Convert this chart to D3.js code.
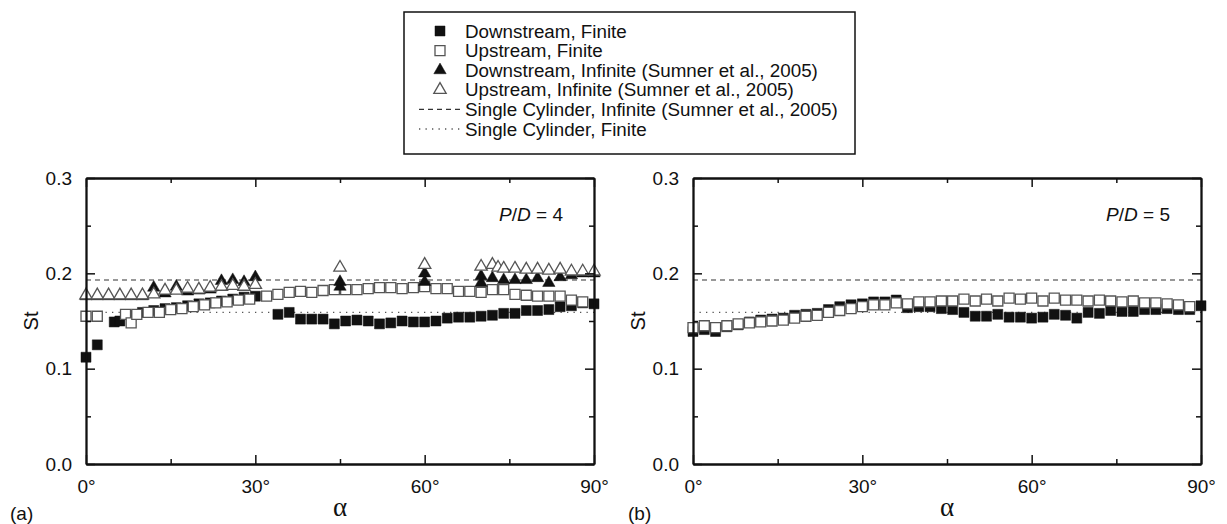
<!DOCTYPE html>
<html>
<head>
<meta charset="utf-8">
<script src="https://cdn.jsdelivr.net/npm/d3@7"></script>
<style>
  body { margin: 0; background: #fff; }
  svg { display: block; font-family: "Liberation Sans", Arial, sans-serif; }
</style>
</head>
<body>
<div id="chart"></div>
<script>
// Tick values
const alphaMajor = [0, 30, 60, 90];
const alphaMinor = [15, 45, 75];
const stMajor = [0, 0.1, 0.2, 0.3];
const stMinor = [0.05, 0.15, 0.25];

// Reference lines
const stSingleInfinite = 0.193;
const stSingleFinite = 0.159;

// P/D = 4, [alpha, St]
const downFinite4 = [[0,0.112],[2,0.125],[5,0.149],[6,0.150],[8,0.156],[10,0.159],[12,0.161],[14,0.163],[16,0.164],[18,0.166],[20,0.168],[22,0.169],[24,0.171],[26,0.173],[28,0.175],[30,0.176],[34,0.157],[36,0.159],[38,0.152],[40,0.152],[42,0.152],[44,0.147],[46,0.150],[48,0.151],[50,0.150],[52,0.147],[54,0.148],[56,0.150],[58,0.149],[60,0.149],[62,0.150],[64,0.153],[66,0.154],[68,0.154],[70,0.155],[72,0.156],[74,0.158],[76,0.158],[78,0.161],[80,0.161],[82,0.162],[84,0.165],[86,0.166],[88,0.169],[90,0.168]];
const upFinite4 = [[0,0.155],[2,0.155],[7,0.157],[8,0.148],[9,0.157],[11,0.159],[13,0.159],[15,0.162],[17,0.163],[19,0.165],[21,0.167],[23,0.169],[25,0.170],[27,0.172],[29,0.173],[32,0.176],[34,0.178],[36,0.180],[38,0.181],[40,0.180],[42,0.182],[44,0.183],[46,0.183],[48,0.183],[50,0.184],[52,0.185],[54,0.185],[56,0.184],[58,0.185],[60,0.186],[62,0.184],[64,0.184],[66,0.181],[68,0.181],[70,0.180],[72,0.183],[74,0.183],[76,0.178],[78,0.177],[80,0.176],[82,0.176],[84,0.176],[86,0.172],[88,0.170]];
const downInfinite4 = [[0,0.176],[2,0.176],[4,0.176],[6,0.176],[8,0.176],[10,0.176],[12,0.185],[14,0.179],[16,0.186],[18,0.181],[20,0.182],[22,0.183],[24,0.192],[26,0.193],[28,0.191],[30,0.196],[45,0.186],[45,0.191],[60,0.191],[60,0.200],[70,0.190],[70,0.197],[72,0.195],[74,0.193],[76,0.193],[78,0.193],[80,0.195],[82,0.190],[84,0.196],[86,0.198],[88,0.200],[90,0.200]];
const upInfinite4 = [[0,0.177],[2,0.177],[4,0.177],[6,0.177],[8,0.177],[10,0.177],[12,0.178],[14,0.182],[16,0.182],[18,0.184],[20,0.183],[22,0.185],[24,0.186],[26,0.187],[28,0.186],[30,0.188],[45,0.206],[60,0.209],[70,0.207],[72,0.209],[73,0.206],[74,0.205],[76,0.205],[78,0.204],[80,0.204],[82,0.203],[84,0.204],[86,0.202],[88,0.202],[90,0.202]];

// P/D = 5
const downFinite5 = [[0,0.139],[2,0.141],[4,0.139],[6,0.144],[8,0.146],[10,0.149],[12,0.151],[14,0.152],[16,0.153],[18,0.156],[20,0.157],[22,0.158],[24,0.162],[26,0.165],[28,0.167],[30,0.168],[32,0.170],[34,0.170],[36,0.172],[38,0.164],[40,0.165],[42,0.165],[44,0.163],[46,0.162],[48,0.159],[50,0.155],[52,0.155],[54,0.157],[56,0.154],[58,0.154],[60,0.153],[62,0.154],[64,0.157],[66,0.156],[68,0.153],[70,0.159],[72,0.158],[74,0.161],[76,0.160],[78,0.160],[80,0.162],[82,0.162],[84,0.163],[86,0.162],[88,0.162],[90,0.166]];
const upFinite5 = [[0,0.143],[2,0.145],[4,0.143],[6,0.145],[8,0.147],[10,0.148],[12,0.149],[14,0.150],[16,0.151],[18,0.153],[20,0.155],[22,0.156],[24,0.159],[26,0.161],[28,0.163],[30,0.165],[32,0.167],[34,0.167],[36,0.169],[38,0.168],[40,0.170],[42,0.170],[44,0.171],[46,0.171],[48,0.173],[50,0.171],[52,0.173],[54,0.171],[56,0.174],[58,0.173],[60,0.174],[62,0.171],[64,0.174],[66,0.172],[68,0.172],[70,0.171],[72,0.172],[74,0.171],[76,0.170],[78,0.171],[80,0.169],[82,0.169],[84,0.168],[86,0.167],[88,0.165]];

const legendLabels = [
  "Downstream, Finite",
  "Upstream, Finite",
  "Downstream, Infinite (Sumner et al., 2005)",
  "Upstream, Infinite (Sumner et al., 2005)",
  "Single Cylinder, Infinite (Sumner et al., 2005)",
  "Single Cylinder, Finite"
];

const width = 1227, height = 524;
const svg = d3.select("#chart").append("svg")
  .attr("width", width).attr("height", height);

const plotTop = 178, plotBottom = 464;
const y = d3.scaleLinear().domain([0, 0.3]).range([plotBottom, plotTop]);

const squareSym = d3.symbol().type(d3.symbolSquare).size(100);
const triSym = d3.symbol().type(d3.symbolTriangle).size(66);

function drawSeries(g, x, data, sym, filled) {
  g.selectAll(null)
    .data(data)
    .join("path")
    .attr("d", sym)
    .attr("transform", d => `translate(${x(d[0])},${y(d[1])})`)
    .attr("fill", filled ? "#111" : "#fff")
    .attr("stroke", filled ? "#111" : "#555")
    .attr("stroke-width", filled ? 0.5 : 1.3);
}

function drawPanel(opts) {
  const x = d3.scaleLinear().domain([0, 90]).range([opts.x0, opts.x1]);
  const g = svg.append("g");

  // reference lines
  g.append("line")
    .attr("x1", x(0)).attr("x2", x(90))
    .attr("y1", y(stSingleInfinite)).attr("y2", y(stSingleInfinite))
    .attr("stroke", "#333").attr("stroke-width", 1.1)
    .attr("stroke-dasharray", "5,4");
  g.append("line")
    .attr("x1", x(0)).attr("x2", x(90))
    .attr("y1", y(stSingleFinite)).attr("y2", y(stSingleFinite))
    .attr("stroke", "#555").attr("stroke-width", 1.3)
    .attr("stroke-dasharray", "1.3,5.2");

  // markers
  drawSeries(g, x, opts.downFinite, squareSym, true);
  drawSeries(g, x, opts.upFinite, squareSym, false);
  if (opts.downInfinite) drawSeries(g, x, opts.downInfinite, triSym, true);
  if (opts.upInfinite) drawSeries(g, x, opts.upInfinite, triSym, false);

  // axes: ticks point inward on all four sides
  const axisStyle = sel => {
    sel.selectAll(".domain").attr("stroke", "#111").attr("stroke-width", 1.8);
    sel.selectAll(".tick line").attr("stroke", "#111").attr("stroke-width", 1.5);
    sel.selectAll("text").attr("font-size", 19).attr("fill", "#111")
      .attr("font-family", "'Liberation Sans', Arial, sans-serif");
  };

  g.append("g").attr("transform", `translate(0,${plotBottom})`)
    .call(d3.axisBottom(x).tickValues(alphaMajor).tickSize(-9).tickSizeOuter(0)
      .tickPadding(16).tickFormat(d => d + "°"))
    .call(axisStyle);
  g.append("g").attr("transform", `translate(0,${plotBottom})`)
    .call(d3.axisBottom(x).tickValues(alphaMinor).tickSize(-5).tickSizeOuter(0).tickFormat(""))
    .call(axisStyle);
  g.append("g").attr("transform", `translate(0,${plotTop})`)
    .call(d3.axisTop(x).tickValues(alphaMajor).tickSize(-9).tickSizeOuter(0).tickFormat(""))
    .call(axisStyle);
  g.append("g").attr("transform", `translate(0,${plotTop})`)
    .call(d3.axisTop(x).tickValues(alphaMinor).tickSize(-5).tickSizeOuter(0).tickFormat(""))
    .call(axisStyle);

  g.append("g").attr("transform", `translate(${opts.x0},0)`)
    .call(d3.axisLeft(y).tickValues(stMajor).tickSize(-9).tickSizeOuter(0)
      .tickPadding(14).tickFormat(d3.format(".1f")))
    .call(axisStyle);
  g.append("g").attr("transform", `translate(${opts.x0},0)`)
    .call(d3.axisLeft(y).tickValues(stMinor).tickSize(-5).tickSizeOuter(0).tickFormat(""))
    .call(axisStyle);
  g.append("g").attr("transform", `translate(${opts.x1},0)`)
    .call(d3.axisRight(y).tickValues(stMajor).tickSize(-9).tickSizeOuter(0).tickFormat(""))
    .call(axisStyle);
  g.append("g").attr("transform", `translate(${opts.x1},0)`)
    .call(d3.axisRight(y).tickValues(stMinor).tickSize(-5).tickSizeOuter(0).tickFormat(""))
    .call(axisStyle);

  // P/D annotation
  const pd = g.append("text")
    .attr("x", opts.x1 - 31).attr("y", 221)
    .attr("text-anchor", "end").attr("font-size", 19).attr("fill", "#111");
  pd.append("tspan").attr("font-style", "italic").text("P");
  pd.append("tspan").text("/");
  pd.append("tspan").attr("font-style", "italic").text("D");
  pd.append("tspan").text(" = " + opts.pd);

  // axis titles
  g.append("text")
    .attr("transform", `translate(${opts.x0 - 55},${(plotTop + plotBottom) / 2}) rotate(-90)`)
    .attr("text-anchor", "middle").attr("dy", "0.35em")
    .attr("font-size", 20).attr("fill", "#111").text("St");
  g.append("text")
    .attr("x", (opts.x0 + opts.x1) / 2).attr("y", 516)
    .attr("text-anchor", "middle")
    .attr("font-family", "'Liberation Serif', serif")
    .attr("font-size", 27).attr("fill", "#111").text("α");
  g.append("text")
    .attr("x", opts.labelX).attr("y", 520)
    .attr("font-size", 19).attr("fill", "#111").text(opts.label);
}

drawPanel({ x0: 86, x1: 594, pd: 4, label: "(a)", labelX: 10,
  downFinite: downFinite4, upFinite: upFinite4,
  downInfinite: downInfinite4, upInfinite: upInfinite4 });
drawPanel({ x0: 693, x1: 1201, pd: 5, label: "(b)", labelX: 628,
  downFinite: downFinite5, upFinite: upFinite5 });

// Legend
const legend = svg.append("g");
legend.append("rect")
  .attr("x", 404).attr("y", 12).attr("width", 451).attr("height", 142)
  .attr("fill", "#fff").attr("stroke", "#111").attr("stroke-width", 1.5);

const rowY = i => 31 + i * 19.6;
const legendSym = [
  { sym: squareSym, filled: true },
  { sym: squareSym, filled: false },
  { sym: triSym, filled: true },
  { sym: triSym, filled: false }
];
legendSym.forEach((s, i) => {
  legend.append("path")
    .attr("d", s.sym)
    .attr("transform", `translate(440,${rowY(i)})`)
    .attr("fill", s.filled ? "#111" : "#fff")
    .attr("stroke", s.filled ? "#111" : "#555")
    .attr("stroke-width", s.filled ? 0.5 : 1.3);
});
legend.append("line")
  .attr("x1", 419).attr("x2", 462).attr("y1", rowY(4)).attr("y2", rowY(4))
  .attr("stroke", "#333").attr("stroke-width", 1.1).attr("stroke-dasharray", "5,4");
legend.append("line")
  .attr("x1", 419).attr("x2", 462).attr("y1", rowY(5)).attr("y2", rowY(5))
  .attr("stroke", "#555").attr("stroke-width", 1.3).attr("stroke-dasharray", "1.3,5.2");

legend.selectAll(".lbl")
  .data(legendLabels)
  .join("text")
  .attr("x", 465)
  .attr("y", (d, i) => rowY(i))
  .attr("dy", "0.35em")
  .attr("font-size", 18.8)
  .attr("fill", "#111")
  .text(d => d);
</script>
</body>
</html>
